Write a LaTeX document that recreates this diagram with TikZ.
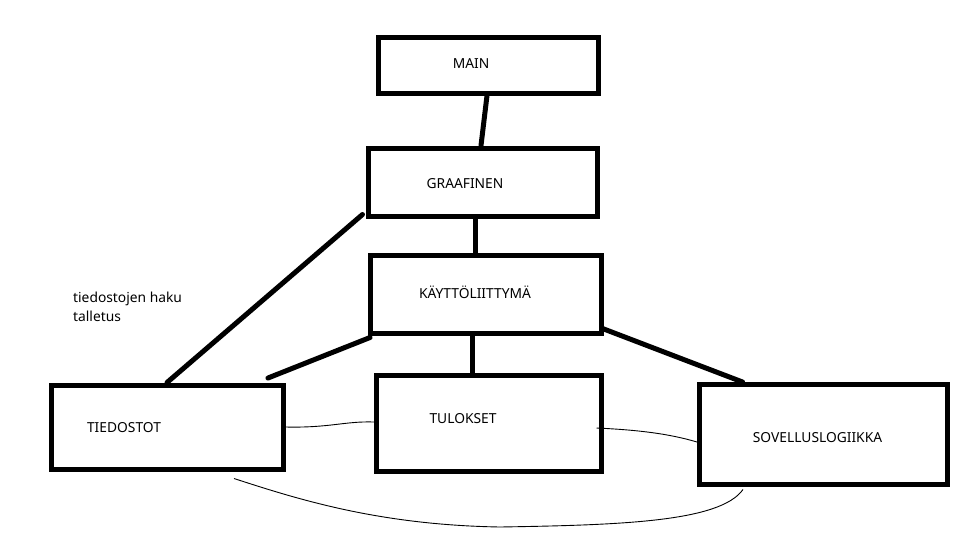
\documentclass[tikz,border=0pt]{standalone}
\usepackage{fontspec}
\setmainfont{Noto Sans}
\usepackage{tikz}
\usetikzlibrary{positioning}

\begin{document}
\begin{tikzpicture}[
x=1pt, y=-1pt,
box/.style={rectangle, draw=black, line width=5pt, inner sep=0pt},
lbl/.style={inner sep=0pt, font=\fontsize{13.8}{18.5}\selectfont},
link/.style={line width=5pt, line cap=round},
wire/.style={line width=0.9pt}
]
\useasboundingbox (0,0) rectangle (973,552);

\node[box, minimum width=220pt, minimum height=56pt](main) at (488,65){};
\node[box, minimum width=229pt, minimum height=68pt](graafinen) at (482.5,182){};
\node[box, minimum width=231pt, minimum height=78pt](kaytto) at (486,294){};
\node[box, minimum width=232pt, minimum height=84pt](tiedostot) at (167,427){};
\node[box, minimum width=225pt, minimum height=96pt](tulokset) at (489,423){};
\node[box, minimum width=248pt, minimum height=100pt](sovellus) at (823.5,434.5){};

\node[lbl](main_txt) at (471,64){MAIN};
\node[lbl](graafinen_txt) at (465,184){GRAAFINEN};
\node[lbl](kaytto_txt) at (475,292){KÄYTTÖLIITTYMÄ};
\node[lbl](tiedostot_txt) at (124,428){TIEDOSTOT};
\node[lbl](tulokset_txt) at (463,419){TULOKSET};
\node[lbl](sovellus_txt) at (817.5,437.5){SOVELLUSLOGIIKKA};
\node[lbl, align=left, anchor=north west](haku_txt) at (73,292){tiedostojen haku\\talletus};

\coordinate (tied_end) at (268,378);

\draw[link] ([xshift=-1pt]main.south) -- ([xshift=-1.5pt]graafinen.north);
\draw[link] ([xshift=-7.5pt]graafinen.south) -- ([xshift=-11pt]kaytto.north);
\draw[link] ([xshift=-3pt, yshift=4pt]graafinen.south west) -- (tiedostot.north);
\draw[link] ([xshift=2pt, yshift=-2pt]kaytto.south west) -- (tied_end);
\draw[link] ([xshift=-13.5pt]kaytto.south) -- ([xshift=-16.5pt]tulokset.north);
\draw[link] ([xshift=-1.5pt, yshift=7pt]kaytto.south east) -- ([xshift=45.5pt]sovellus.north west);

\draw[wire] (tiedostot.east) .. controls (330,428) and (345,421) .. ([yshift=1pt]tulokset.west);
\draw[wire] ([xshift=-7.5pt, yshift=-5pt]tulokset.east) .. controls (640,430) and (670,434) .. ([yshift=-7.5pt]sovellus.west);
\draw[wire] ([xshift=67pt, yshift=-7pt]tiedostot.south) .. controls (300,500) and (380,525) .. (500,527) .. controls (620,525) and (720,522) .. ([xshift=-80.5pt, yshift=-2.5pt]sovellus.south);

\end{tikzpicture}
\end{document}
